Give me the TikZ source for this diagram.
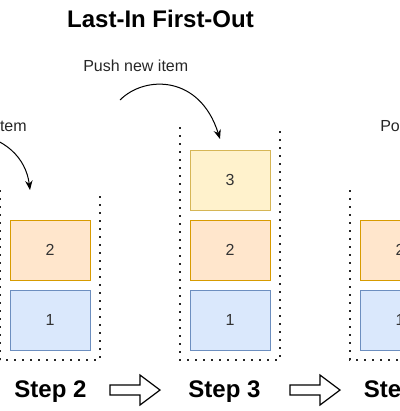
\documentclass[tikz,border=0pt]{standalone}
\usepackage{fontspec}
\setmainfont{Liberation Sans}
\usetikzlibrary{arrows.meta}
\definecolor{blueFill}{HTML}{DAE8FC}
\definecolor{blueLine}{HTML}{6C8EBF}
\definecolor{orangeFill}{HTML}{FFE6CC}
\definecolor{orangeLine}{HTML}{D79B00}
\definecolor{yellowFill}{HTML}{FFF2CC}
\definecolor{yellowLine}{HTML}{D6B656}

\begin{document}
\begin{tikzpicture}[
		x=0.75pt, y=-0.75pt,
		item/.style={rectangle, draw, line width=0.75pt, minimum width=60pt, minimum height=45pt, inner sep=0pt, font=\fontsize{12}{14}\selectfont, text=black!80},
		stack/.style={line width=1.5pt, dash pattern=on 1.5pt off 4.5pt, black!85},
		steplabel/.style={anchor=base, inner sep=0pt, font=\fontsize{18}{20}\selectfont\bfseries},
		note/.style={inner sep=0pt, font=\fontsize{12}{14}\selectfont, text=black!85},
		curvearr/.style={line width=0.75pt, -{Stealth[length=7pt, width=5.5pt]}},
		blockarr/.style={draw, line width=0.9pt, fill=white, line join=miter}
		]
		\useasboundingbox (0,0) rectangle (400,411);
		\clip (0,0) rectangle (400,411);
		
		\node (title) at (160.5,27) [steplabel] {Last-In First-Out};
		
		% stacks
		\draw [stack] (0,190) -- (0,360) -- (100,360) -- (100,190);
		\draw [stack] (180,127) -- (180,360) -- (280,360) -- (280,127);
		\draw [stack] (350,190) -- (350,360) -- (450,360) -- (450,190);
		
		% step 2
		\node (s2one) at (50,320) [item, fill=blueFill, draw=blueLine] {1};
		\node (s2two) at (50,250) [item, fill=orangeFill, draw=orangeLine] {2};
		% step 3
		\node (s3one) at (230,320) [item, fill=blueFill, draw=blueLine] {1};
		\node (s3two) at (230,250) [item, fill=orangeFill, draw=orangeLine] {2};
		\node (s3three) at (230,180) [item, fill=yellowFill, draw=yellowLine] {3};
		% step 4
		\node (s4one) at (400,320) [item, fill=blueFill, draw=blueLine] {1};
		\node (s4two) at (400,250) [item, fill=orangeFill, draw=orangeLine] {2};
		
		\node (step2) at (50.5,397) [steplabel] {Step 2};
		\node (step3) at (224.5,397) [steplabel] {Step 3};
		\node (step4) at (400,397) [steplabel] {Step 4};
		
		% notes and push arrows
		\node (push2) at (27,131) [note, anchor=base east] {Push new item};
		\node (push3) at (83,71) [note, anchor=base west] {Push new item};
		\node (pop4) at (380,131) [note, anchor=base west] {Pop item};
		
		\coordinate (push2s) at (-30,133);
		\coordinate (push2e) at (30,190);
		\coordinate (push3s) at (120,100);
		\coordinate (push3e) at (220,139);
		\draw [curvearr] (push2s) .. controls (5,137) and (26,158) .. (push2e);
		\draw [curvearr] (push3s) .. controls (145,75) and (200,75) .. (push3e);
		
		% block arrows between steps
		\foreach \x in {110,290}
		\draw [blockarr] (\x,385) -- ++(30,0) -- ++(0,-10) -- ++(20,15) -- ++(-20,15) -- ++(0,-10) -- ++(-30,0) -- cycle;
	\end{tikzpicture}
\end{document}
